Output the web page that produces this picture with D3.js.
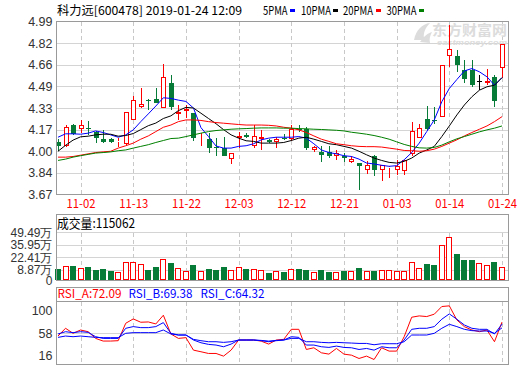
<!DOCTYPE html>
<html><head><meta charset="utf-8">
<script src="https://cdn.jsdelivr.net/npm/d3@7"></script>
<style>
html,body{margin:0;padding:0;background:#fff;}
svg{display:block;}
</style></head><body>
<svg id="c" width="520" height="365"></svg>
<script>
const dates = ["10-30","10-31","11-01","11-02","11-05","11-06","11-07","11-08","11-09","11-12","11-13","11-14","11-15","11-16","11-19","11-20","11-21","11-22","11-23","11-26","11-27","11-28","11-29","11-30","12-03","12-04","12-05","12-06","12-07","12-10","12-11","12-12","12-13","12-14","12-17","12-18","12-19","12-20","12-21","12-24","12-25","12-26","12-27","12-28","01-02","01-03","01-04","01-07","01-08","01-09","01-10","01-11","01-14","01-15","01-16","01-17","01-18","01-22","01-23","01-24"];
const xLabels = ["11-02","11-13","11-22","12-03","12-12","12-21","01-03","01-14","01-24"];

const openP  = [4.067,4.037,4.198,4.173,4.175,4.150,4.095,4.095,4.070,4.057,4.239,4.335,4.390,4.395,4.327,4.522,4.282,4.310,4.290,4.053,4.092,4.032,4.024,3.940,4.100,4.125,4.037,4.097,4.087,4.067,4.100,4.092,4.170,4.168,4.006,3.994,3.994,3.960,3.966,3.915,3.910,3.860,3.960,3.860,3.875,3.860,3.847,3.980,4.100,4.246,4.239,4.264,4.727,4.724,4.623,4.623,4.537,4.517,4.568,4.638];
const highP  = [4.092,4.198,4.206,4.239,4.231,4.155,4.163,4.100,4.100,4.297,4.420,4.479,4.398,4.479,4.664,4.580,4.353,4.353,4.295,4.143,4.138,4.100,4.112,3.990,4.150,4.138,4.200,4.163,4.092,4.110,4.130,4.200,4.200,4.183,4.042,4.042,4.042,4.010,3.990,3.966,3.910,3.923,3.973,3.873,3.885,3.935,3.935,4.226,4.210,4.345,4.335,4.656,4.960,4.770,4.694,4.694,4.580,4.631,4.580,4.820];
const lowP   = [4.000,4.032,4.122,4.143,4.125,4.060,4.062,4.062,4.032,4.050,4.239,4.327,4.315,4.365,4.327,4.315,4.239,4.252,4.075,4.037,3.986,3.960,3.960,3.905,4.024,4.100,4.024,4.010,4.062,4.024,4.087,4.075,4.150,4.006,3.994,3.915,3.948,3.935,3.920,3.910,3.703,3.830,3.810,3.770,3.795,3.815,3.820,3.966,4.100,4.163,4.210,4.264,4.643,4.606,4.517,4.490,4.466,4.504,4.335,4.562];
const closeP = [4.037,4.183,4.130,4.198,4.172,4.100,4.067,4.067,4.080,4.297,4.390,4.358,4.385,4.365,4.563,4.340,4.302,4.320,4.100,4.057,4.024,4.027,3.966,3.990,4.117,4.112,4.117,4.107,4.067,4.092,4.095,4.168,4.165,4.024,4.032,3.971,3.960,3.986,3.948,3.940,3.885,3.897,3.855,3.897,3.882,3.885,3.935,4.155,4.180,4.168,4.236,4.656,4.783,4.656,4.550,4.504,4.537,4.535,4.386,4.820];

const ma5  = [4.107,4.133,4.133,4.130,4.138,4.155,4.143,4.125,4.107,4.125,4.163,4.226,4.285,4.345,4.408,4.403,4.390,4.380,4.330,4.180,4.112,4.040,4.024,4.024,4.037,4.042,4.057,4.087,4.100,4.107,4.107,4.107,4.112,4.100,4.057,4.010,3.990,3.980,3.966,3.960,3.940,3.910,3.903,3.893,3.885,3.890,3.935,3.990,4.062,4.150,4.239,4.378,4.479,4.547,4.613,4.631,4.606,4.568,4.504,4.562];
const ma10 = [4.000,4.045,4.085,4.110,4.115,4.125,4.130,4.130,4.115,4.120,4.135,4.165,4.195,4.215,4.250,4.270,4.310,4.335,4.330,4.290,4.250,4.210,4.165,4.125,4.100,4.080,4.075,4.062,4.062,4.062,4.067,4.082,4.100,4.107,4.092,4.075,4.057,4.050,4.037,4.024,4.000,3.973,3.948,3.930,3.915,3.910,3.923,3.948,3.986,4.010,4.037,4.112,4.193,4.277,4.353,4.416,4.466,4.492,4.504,4.562];
const ma20 = [3.955,3.955,3.960,3.970,3.980,3.990,3.995,4.000,4.024,4.042,4.062,4.092,4.117,4.150,4.183,4.200,4.226,4.239,4.239,4.235,4.226,4.219,4.214,4.209,4.204,4.200,4.200,4.200,4.198,4.193,4.183,4.176,4.163,4.143,4.117,4.092,4.075,4.057,4.050,4.042,4.037,4.035,4.035,4.032,4.024,4.016,4.006,4.004,4.000,4.004,4.016,4.037,4.062,4.087,4.117,4.143,4.168,4.193,4.226,4.264];
const ma30 = [3.930,3.940,3.955,3.966,3.976,3.986,3.990,3.995,4.004,4.010,4.024,4.037,4.050,4.067,4.082,4.097,4.100,4.112,4.125,4.138,4.150,4.158,4.163,4.168,4.171,4.173,4.176,4.178,4.178,4.178,4.176,4.176,4.173,4.171,4.168,4.166,4.163,4.160,4.155,4.145,4.138,4.130,4.120,4.107,4.092,4.072,4.052,4.037,4.026,4.024,4.029,4.047,4.072,4.095,4.112,4.130,4.148,4.163,4.176,4.193];

const volume = [9.2,12.5,12.5,11.1,11.4,8.5,9.2,7.4,5.9,16.9,16.9,14.7,8.5,11.4,21.0,15.8,11.1,7.0,13.6,7.0,9.2,8.5,11.4,8.9,12.2,9.2,10.0,8.1,5.2,7.0,6.3,9.2,9.2,8.1,5.9,8.1,6.3,5.9,7.4,7.0,10.3,7.0,7.0,8.1,8.1,7.0,7.0,16.9,11.1,14.7,13.6,35.6,44.0,25.7,19.1,19.1,15.8,13.6,16.9,11.5062];

const rsiA = [53.2,63.7,56.9,61.4,59.1,50.0,46.4,46.4,46.9,70.5,76.4,71.9,72.3,69.6,81.4,56.0,50.0,51.0,34.1,31.9,29.6,29.6,26.0,34.1,47.8,47.8,47.8,46.3,42.3,47.8,48.7,62.3,62.3,35.0,37.3,30.5,28.7,36.4,28.7,27.3,22.8,26.0,21.4,37.3,32.8,32.8,52.3,78.7,80.5,79.6,82.8,93.2,94.1,75.0,65.9,61.4,59.1,61.4,45.5,72.09];
const rsiB = [56.0,59.1,57.8,59.1,58.2,52.3,50.0,50.0,50.0,63.7,66.0,64.6,64.6,66.0,71.4,56.9,54.6,54.6,47.8,44.1,41.9,41.0,38.7,42.3,47.8,47.8,47.8,46.9,45.5,46.9,47.8,52.3,51.4,41.0,41.0,38.7,37.8,39.6,37.8,37.3,35.0,36.4,34.1,38.7,37.3,37.3,47.8,62.3,63.7,63.7,66.0,76.0,83.2,76.0,68.2,63.7,62.3,62.3,56.0,69.38];
const rsiC = [51.4,53.2,52.3,53.2,52.3,51.4,51.0,51.0,51.0,56.9,57.8,57.8,57.8,57.8,61.4,56.0,54.6,54.6,48.7,46.9,45.5,45.5,44.6,45.5,47.8,47.8,47.8,47.3,46.3,47.3,47.8,50.0,50.0,45.5,45.5,44.6,44.1,44.6,44.1,43.7,43.2,43.2,41.4,42.8,42.8,42.8,45.5,54.6,54.6,54.6,56.9,63.7,69.1,66.0,62.3,60.5,60.0,60.0,56.9,64.32];

const priceTicks = [3.67,3.835,4.00,4.165,4.33,4.495,4.66,4.825,4.99];
const priceTickLabels = ["3.67","3.84","4.00","4.17","4.33","4.49","4.66","4.82","4.99"];
const volTicks = [8.87,22.41,35.95,49.49];
const volTickLabels = ["8.87万","22.41万","35.95万","49.49万"];
const rsiTicks = [16,58,100];
const rsiTickLabels = ["16","58","100"];

const maNames = ["5PMA","10PMA","20PMA","30PMA"];
const maColors = ["#0000ff","#000000","#ff0000","#008000"];

const RED = "#ff0000", GREEN = "#067a37";
const L = 56.5, R = 508.5;
const svg = d3.select("#c");
const CJK = "SimSun, 'Noto Sans CJK SC', sans-serif";
const NUM = "'Liberation Sans', Arial, sans-serif";

const x = d3.scalePoint().domain(dates).range([58, 502]);
const cx = i => Math.round(x(dates[i]));
const yP = d3.scaleLinear().domain([3.67, 4.99]).range([194.5, 21.5]);
const yV = d3.scaleLinear().domain([-2.9, 49.49]).range([280.5, 232.3]);
const yR = d3.scaleLinear().domain([16, 100]).range([363.5, 301.5]);

const GRID = "#d4d4d4", BORDER = "#9a9a9a";

// ---------- grids ----------
function hGrid(scale, vals) {
  const g = svg.append("g").attr("transform", `translate(${L},0)`)
    .call(d3.axisLeft(scale).tickValues(vals).tickSize(-(R - L)).tickFormat(""));
  g.select(".domain").remove();
  g.selectAll(".tick line").attr("stroke", GRID).attr("shape-rendering", "crispEdges");
}
hGrid(yP, priceTicks.slice(1, -1));
hGrid(yV, volTicks);
hGrid(yR, [58]);

function vGrid(top, bottom) {
  svg.append("g").selectAll("line").data(xLabels).join("line")
    .attr("x1", d => Math.round(x(d)) + 0.5).attr("x2", d => Math.round(x(d)) + 0.5)
    .attr("y1", top).attr("y2", bottom)
    .attr("stroke", "#c8c8c8").attr("stroke-dasharray", "4,3");
}
vGrid(22, 194);
vGrid(233, 280);
vGrid(302, 363);

// ---------- watermark ----------
const wm = svg.append("g").attr("fill", "#dcdcdc");
wm.append("path").attr("d", "M414,40 C416,30 422,24 430,23 C425,28 423,33 424,40 Z M420,42 C424,36 428,33 432,32 C430,36 429,39 430,43 Z");
wm.append("text").attr("x", 432).attr("y", 35).attr("font-family", CJK).attr("font-weight", "bold")
  .attr("font-size", 14).attr("textLength", 75).attr("lengthAdjust", "spacingAndGlyphs").text("东方财富网");
wm.append("text").attr("x", 437).attr("y", 45).attr("font-family", NUM).attr("font-weight", "bold")
  .attr("font-style", "italic").attr("font-size", 7).attr("textLength", 70).attr("lengthAdjust", "spacingAndGlyphs").text("eastmoney.com");

// ---------- candles ----------
const idx = d3.range(dates.length);
const cg = svg.append("g").attr("shape-rendering", "crispEdges");
idx.forEach(i => {
  const o = openP[i], c = closeP[i], h = highP[i], l = lowP[i];
  const n = cx(i);
  const top = Math.round(yP(Math.max(o, c))), bot = Math.round(yP(Math.min(o, c)));
  const yh = Math.round(yP(h)), yl = Math.round(yP(l));
  if (c > o) {
    cg.append("line").attr("x1", n + 0.5).attr("x2", n + 0.5).attr("y1", yh).attr("y2", top).attr("stroke", RED);
    cg.append("line").attr("x1", n + 0.5).attr("x2", n + 0.5).attr("y1", bot).attr("y2", yl).attr("stroke", RED);
    cg.append("rect").attr("x", n - 1.5).attr("y", top + 0.5).attr("width", 4).attr("height", Math.max(bot - top - 1, 0))
      .attr("fill", "#fff").attr("stroke", RED);
  } else if (c < o) {
    cg.append("line").attr("x1", n + 0.5).attr("x2", n + 0.5).attr("y1", yh).attr("y2", yl).attr("stroke", GREEN);
    cg.append("rect").attr("x", n - 2).attr("y", top).attr("width", 5).attr("height", Math.max(bot - top, 1)).attr("fill", GREEN);
  } else {
    cg.append("line").attr("x1", n + 0.5).attr("x2", n + 0.5).attr("y1", yh).attr("y2", yl).attr("stroke", "#000");
    cg.append("line").attr("x1", n - 2).attr("x2", n + 3).attr("y1", top + 0.5).attr("y2", top + 0.5).attr("stroke", "#000");
  }
});

// ---------- MA lines ----------
[ma5, ma10, ma20, ma30].forEach((arr, k) => {
  svg.append("path").datum(arr)
    .attr("d", d3.line().x((d, i) => x(dates[i])).y(d => yP(d)))
    .attr("fill", "none").attr("stroke", maColors[k]).attr("stroke-width", 1);
});

// ---------- volume ----------
const vg = svg.append("g").attr("shape-rendering", "crispEdges");
const vBase = yV.range()[0] - 0.5;
idx.forEach(i => {
  const n = cx(i);
  const t = Math.round(yV(volume[i]));
  if (closeP[i] >= openP[i]) {
    vg.append("rect").attr("x", n - 2.5).attr("y", t + 0.5).attr("width", 5).attr("height", vBase - t - 1)
      .attr("fill", "#fff").attr("stroke", RED);
  } else {
    vg.append("rect").attr("x", n - 3).attr("y", t).attr("width", 6).attr("height", vBase - t).attr("fill", GREEN);
  }
});

// ---------- RSI ----------
[[rsiA, RED], [rsiB, "#0000ff"], [rsiC, "#0000ff"]].forEach(([arr, col]) => {
  svg.append("path").datum(arr)
    .attr("d", d3.line().x((d, i) => x(dates[i])).y(d => yR(d)))
    .attr("fill", "none").attr("stroke", col).attr("stroke-width", 1);
});

// ---------- borders ----------
const bg = svg.append("g").attr("fill", "none").attr("stroke", BORDER).attr("shape-rendering", "crispEdges");
bg.append("rect").attr("x", L).attr("y", 21.5).attr("width", R - L).attr("height", 173);
bg.append("rect").attr("x", L).attr("y", 214.5).attr("width", R - L).attr("height", 66);
bg.append("rect").attr("x", L).attr("y", 287.5).attr("width", R - L).attr("height", 77);
bg.append("line").attr("x1", L).attr("x2", R).attr("y1", 301.5).attr("y2", 301.5);

// ---------- axes labels ----------
function leftAxis(scale, vals, labels, size) {
  const g = svg.append("g").attr("transform", `translate(${L},0)`)
    .call(d3.axisLeft(scale).tickValues(vals).tickSize(0).tickPadding(4).tickFormat((d, i) => labels[i]));
  g.select(".domain").remove();
  g.selectAll("text").attr("font-family", NUM).attr("font-size", size || 12.5).attr("fill", "#333");
  return g;
}
leftAxis(yP, priceTicks, priceTickLabels);
leftAxis(yV, volTicks, volTickLabels, 12);
svg.append("text").attr("x", L - 4).attr("y", yV.range()[0]).attr("dy", "0.4em").attr("text-anchor", "end")
  .attr("font-family", NUM).attr("font-size", 12).attr("fill", "#333").text("0");
const ra = leftAxis(yR, rsiTicks, rsiTickLabels);
ra.selectAll("text").attr("dy", (d) => d === 100 ? "1.0em" : d === 16 ? "-0.35em" : "0.4em");

const xa = svg.append("g").attr("transform", "translate(0,194.5)")
  .call(d3.axisBottom(x).tickValues(xLabels).tickSize(0).tickPadding(5));
xa.select(".domain").remove();
xa.selectAll("text").attr("font-family", CJK).attr("font-size", 12).attr("fill", RED)
  .attr("textLength", 29).attr("lengthAdjust", "spacingAndGlyphs");

// ---------- headers ----------
function txt(s, xx, yy, len, col, size) {
  svg.append("text").attr("x", xx).attr("y", yy).attr("font-family", CJK).attr("font-size", size || 12)
    .attr("fill", col || "#000").attr("textLength", len).attr("lengthAdjust", "spacingAndGlyphs").text(s);
}
txt("科力远[600478] 2019-01-24 12:09", 57, 15, 185);
const legX = [263, 301, 343, 386.5];
const legW = [24.5, 30, 30, 30];
const sw = [290, 333, 376, 419];
maNames.forEach((m, k) => {
  txt(m, legX[k], 15, legW[k]);
  svg.append("rect").attr("x", sw[k]).attr("y", 9).attr("width", 5).attr("height", 3).attr("fill", maColors[k]);
});
txt("成交量:" + Math.round(volume[volume.length - 1] * 10000), 57, 228, 78, "#000", 13);
txt("RSI_A:" + rsiA[rsiA.length - 1].toFixed(2), 57.5, 298, 64, RED);
txt("RSI_B:" + rsiB[rsiB.length - 1].toFixed(2), 128.5, 298, 64, "#0000ff");
txt("RSI_C:" + rsiC[rsiC.length - 1].toFixed(2), 200.5, 298, 64, "#0000ff");
</script>
</body></html>
